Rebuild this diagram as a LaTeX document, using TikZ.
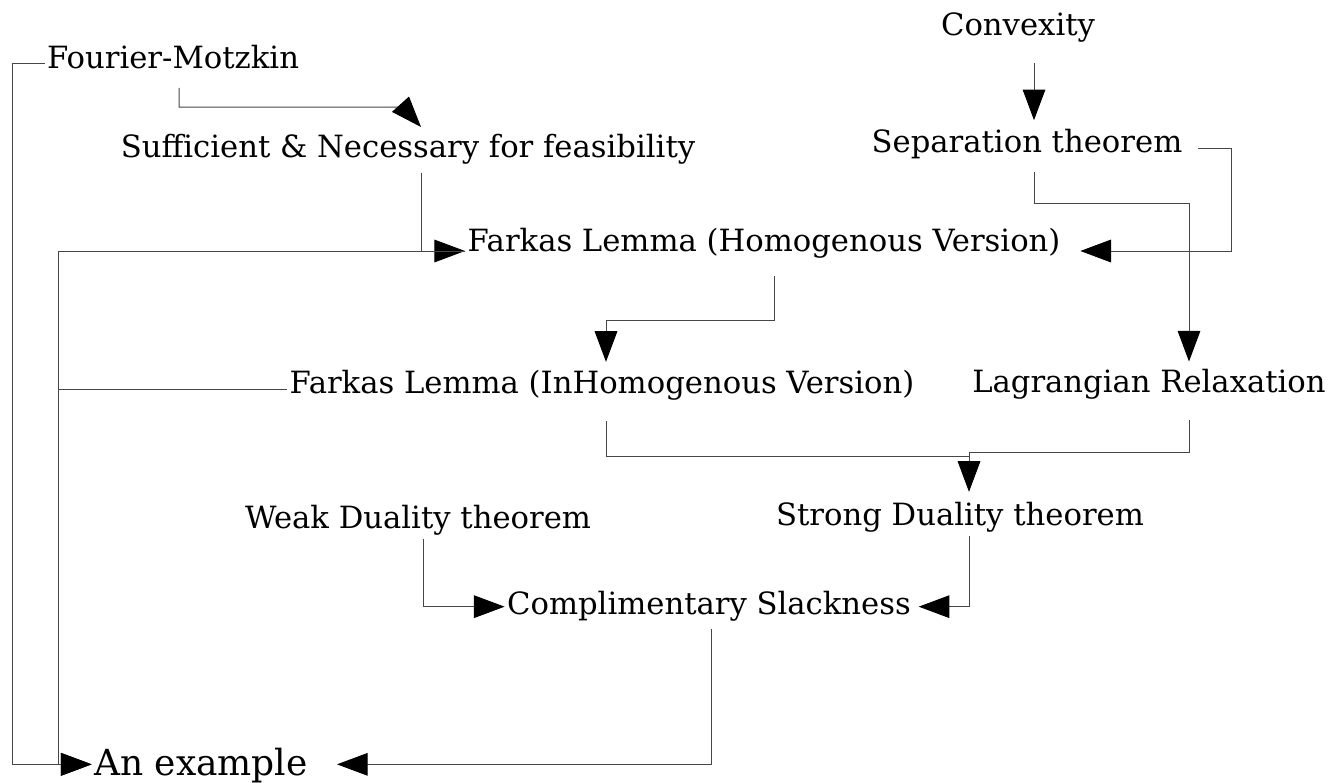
\documentclass[tikz,border=0pt]{standalone}
\usepackage{fontspec}
\setmainfont{DejaVu Serif}
\usetikzlibrary{arrows.meta}

\tikzset{every picture/.style={line width=0.75pt}}
\tikzset{
  topic/.style={anchor=base,inner sep=1.5pt,text height=17pt,text depth=6pt,font=\fontsize{23}{27}\selectfont},
  link/.style={draw={rgb,255:red,70;green,70;blue,70},line width=0.75pt},
  arr/.style={link,-{Triangle[length=23pt,width=17pt,color=black]}}
}

\begin{document}
\begin{tikzpicture}[x=0.75pt,y=0.75pt,yscale=-1,xscale=1]
\useasboundingbox (0,0) rectangle (1339,782);

% Text Node
\node [topic] (conv) at (1018,35) {Convexity};
% Text Node
\node [topic] (fm) at (173,68) {Fourier-Motzkin};
% Text Node
\node [topic] (suf) at (408,157) {Sufficient \& Necessary for feasibility};
% Text Node
\node [topic] (sep) at (1027,152) {Separation theorem};
% Text Node
\node [topic] (fh) at (764,251) {Farkas Lemma (Homogenous Version)};
% Text Node
\node [topic] (fi) at (602,393) {Farkas Lemma (InHomogenous Version)};
% Text Node
\node [topic] (lag) at (1149,392) {Lagrangian Relaxation};
% Text Node
\node [topic] (weak) at (418,528) {Weak Duality theorem};
% Text Node
\node [topic] (strong) at (960,525) {Strong Duality theorem};
% Text Node
\node [topic] (comp) at (709,614) {Complimentary Slackness};
% Text Node
\node [topic,text height=20pt,text depth=7pt,font=\fontsize{27}{30}\selectfont] (ex) at (201,775) {An example};

%Straight Lines
\draw [arr,shorten <=13pt,shorten >=5pt] (1034,0 |- conv.south) -- (1034,0 |- sep.north) ;
%Straight Lines
\draw [arr,shorten <=7pt] (179,0 |- fm.south) -- (179,107) -- (403,107) -- (421,127) ;
%Straight Lines
\draw [arr] ([yshift=2pt]fm.west) -- ([yshift=2pt]12,0 |- fm.west) -- ([yshift=-1.5pt]12,0 |- ex.west) -- ([yshift=-1.5pt]ex.west) ;
%Straight Lines
\draw [arr,shorten <=4pt] (421,0 |- suf.south) -- (421,0 |- fh.base west) -- (fh.base west) ;
%Straight Lines
\draw [arr] (fh.base west) -- (58,0 |- fh.base west) -- ([yshift=-1.5pt]58,0 |- ex.west) -- ([yshift=-1.5pt]ex.west) ;
%Straight Lines
\draw [link] ([yshift=3pt]fi.west) -- ([yshift=3pt]58,0 |- fi.west) ;
%Straight Lines
\draw [arr,shorten <=10pt,shorten >=13pt] ([yshift=2.5pt]sep.east) -- ([yshift=2.5pt]1231,0 |- sep.east) -- (1231,0 |- fh.base east) -- (fh.base east) ;
%Straight Lines
\draw [arr,shorten <=7pt,shorten >=4pt] (1034,0 |- sep.south) -- (1034,203) -- (1189,203) -- (1189,0 |- lag.north) ;
%Straight Lines
\draw [arr,shorten <=11pt,shorten >=4.5pt] (774,0 |- fh.south) -- (774,320) -- (606,320) -- (606,0 |- fi.north) ;
%Straight Lines
\draw [link,shorten <=13pt] (606,0 |- fi.south) -- (606,456) -- (969,456) ;
%Straight Lines
\draw [arr,shorten <=13pt,shorten >=6pt] (1189,0 |- lag.south) -- (1189,452) -- (969,452) -- (969,0 |- strong.north) ;
%Straight Lines
\draw [arr] (423,0 |- weak.south) -- (423,0 |- comp.west) -- (comp.west) ;
%Straight Lines
\draw [arr,shorten >=4pt] (969,0 |- strong.south) -- (969,0 |- comp.east) -- (comp.east) ;
%Straight Lines
\draw [arr,shorten <=3pt,shorten >=20pt] (711,0 |- comp.south) -- ([yshift=-1.5pt]711,0 |- ex.east) -- ([yshift=-1.5pt]ex.east) ;

\end{tikzpicture}
\end{document}
